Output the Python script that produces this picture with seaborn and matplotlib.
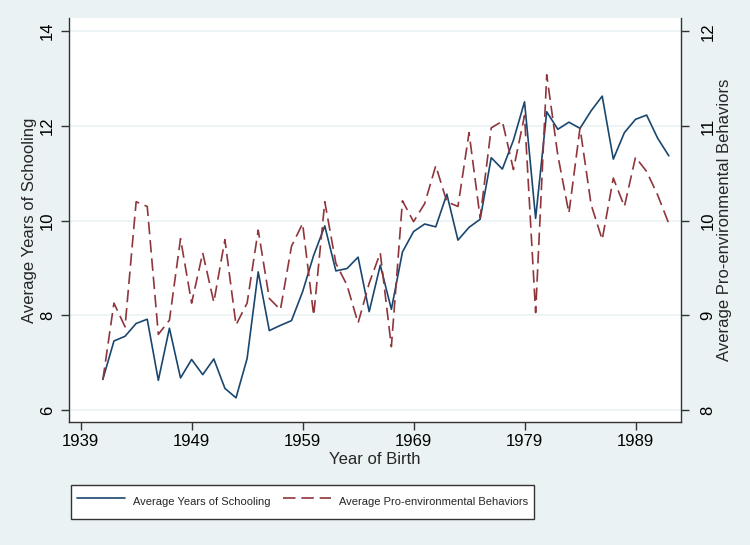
import matplotlib
matplotlib.use("Agg")
import matplotlib.pyplot as plt
import seaborn as sns
import pandas as pd

years = list(range(1941, 1993))
schooling = [6.65, 7.46, 7.56, 7.83, 7.92, 6.63, 7.73, 6.68, 7.07, 6.75,
             7.08, 6.46, 6.26, 7.09, 8.92, 7.68, 7.79, 7.89, 8.50, 9.27,
             9.89, 8.94, 8.99, 9.23, 8.08, 9.06, 8.13, 9.34, 9.77, 9.93,
             9.87, 10.56, 9.59, 9.86, 10.03, 11.33, 11.09, 11.70, 12.51, 10.05,
             12.30, 11.93, 12.08, 11.95, 12.32, 12.63, 11.30, 11.86, 12.14, 12.23,
             11.74, 11.37]
behaviors = [8.32, 9.13, 8.88, 10.20, 10.15, 8.80, 8.95, 9.81, 9.13, 9.66,
             9.14, 9.80, 8.90, 9.13, 9.90, 9.18, 9.06, 9.73, 9.97, 9.00,
             10.20, 9.55, 9.32, 8.92, 9.34, 9.66, 8.67, 10.21, 9.99, 10.18,
             10.58, 10.20, 10.15, 10.93, 10.03, 10.98, 11.05, 10.54, 11.11, 9.03,
             11.54, 10.69, 10.08, 10.98, 10.17, 9.80, 10.45, 10.15, 10.67, 10.52,
             10.27, 9.97]
x_ticks = [1939, 1949, 1959, 1969, 1979, 1989]
left_ticks = [6, 8, 10, 12, 14]
right_ticks = [8, 9, 10, 11, 12]

df = pd.DataFrame({"year": years, "school": schooling, "behav": behaviors})

sns.set_theme(style="white")
plt.rcParams['font.family'] = ['Liberation Sans', 'DejaVu Sans']

BG = "#EAF2F3"
BLUE = "#1a476f"
RED = "#90353b"
AX = "#333333"

fig = plt.figure(figsize=(7.5, 5.45), dpi=100, facecolor=BG)
ax = fig.add_axes([0.092, 0.2257, 0.816, 0.7413])
ax.set_facecolor("white")
ax2 = ax.twinx()

sns.lineplot(data=df, x="year", y="school", ax=ax, color=BLUE, lw=1.2,
             label="Average Years of Schooling", legend=False)
sns.lineplot(data=df, x="year", y="behav", ax=ax2, color=RED, lw=1.2,
             label="Average Pro-environmental Behaviors", legend=False)
ax2.get_lines()[0].set_dashes([7.5, 3.5])

ax.set_xlim(1937.95, 1993.1)
ax.set_ylim(5.75, 14.28)
ax2.set_ylim(5.75 / 2 + 5, 14.28 / 2 + 5)

ax.set_xticks(x_ticks)
ax.set_yticks(left_ticks)
ax2.set_yticks(right_ticks)
ax.set_xticklabels([str(t) for t in x_ticks], fontsize=12)
ax.set_yticklabels([str(t) for t in left_ticks], fontsize=12, rotation=90, va="center")
ax2.set_yticklabels([str(t) for t in right_ticks], fontsize=12, rotation=90, va="center")

ax.yaxis.grid(True, color=BG, lw=1.2)
ax.set_axisbelow(True)

for a in (ax, ax2):
    a.spines["top"].set_visible(False)
    for s in ("left", "right", "bottom"):
        a.spines[s].set_color(AX)
        a.spines[s].set_linewidth(1.0)
ax.spines["right"].set_visible(False)
ax2.spines["left"].set_visible(False)
ax2.spines["bottom"].set_visible(False)

ax.tick_params(axis="x", which="both", bottom=True, length=6, width=1, color=AX, pad=3, labelcolor="black")
ax.tick_params(axis="y", which="both", left=True, length=6, width=1, color=AX, pad=4, labelcolor="black")
ax2.tick_params(axis="y", which="both", right=True, length=6, width=1, color=AX, pad=8, labelcolor="black")

ax.set_xlabel("Year of Birth", fontsize=12, labelpad=2)
ax.set_ylabel("Average Years of Schooling", fontsize=12, labelpad=2)
ax2.set_ylabel("Average Pro-environmental Behaviors", fontsize=12, labelpad=1)

handles = [ax.get_lines()[0], ax2.get_lines()[0]]
labels = ["Average Years of Schooling", "Average Pro-environmental Behaviors"]
leg = fig.legend(handles, labels, loc="lower left", bbox_to_anchor=(0.0947, 0.0477),
                 ncol=2, prop={"family": "Liberation Sans", "size": 8.0},
                 frameon=True, fancybox=False, framealpha=1,
                 edgecolor=AX, facecolor="white", handlelength=4.3,
                 handleheight=2.7, columnspacing=1.17, borderpad=0.55,
                 handletextpad=0.72, borderaxespad=0)
leg.get_frame().set_linewidth(1.0)

fig.savefig("out.png", dpi=100, facecolor=BG)
